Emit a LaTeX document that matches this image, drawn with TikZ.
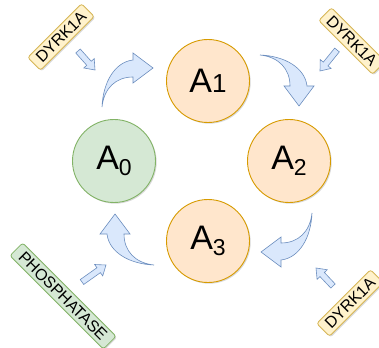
\documentclass[tikz,border=0pt]{standalone}
\usepackage{fontspec}
\setmainfont{Liberation Sans}
\usetikzlibrary{calc,shadows}

\definecolor{orfill}{HTML}{FFE6CC}
\definecolor{ordraw}{HTML}{D79B00}
\definecolor{grfill}{HTML}{D5E8D4}
\definecolor{grdraw}{HTML}{82B366}
\definecolor{yefill}{HTML}{FFF2CC}
\definecolor{yedraw}{HTML}{D6B656}
\definecolor{blfill}{HTML}{DAE8FC}
\definecolor{bldraw}{HTML}{6C8EBF}

% lowered index digit after a state letter
\newcommand\stateidx[1]{\raisebox{-6.5pt}{\fontsize{23}{27}\selectfont #1}}

% short straight block arrow from #1 (tail) to #2 (tip)
\newcommand\stubarrow[2]{%
  \path ($(#2)!9pt!(#1)$) coordinate (hb);
  \path[flow] ($(#1)!3pt!90:(#2)$) -- ($(hb)!3pt!90:(#2)$) -- ($(hb)!7pt!90:(#2)$)
    -- (#2) -- ($(hb)!7pt!-90:(#2)$) -- ($(hb)!3pt!-90:(#2)$) -- ($(#1)!3pt!-90:(#2)$) -- cycle;
}

% curved transition arrow (drawn for the A0 -> A1 step; others are rotated copies)
\newcommand\cyclearrow{%
  \path[flow] (102,107) .. controls (103,82) and (115,62) .. (133,60)
    -- (133,53) -- (153,68) -- (133,83) -- (133,77)
    .. controls (116,77) and (104,88) .. (102,107) -- cycle;
}

\begin{document}
\begin{tikzpicture}[x=1pt,y=-1pt,
  softshadow/.style={drop shadow={shadow xshift=1.2pt,shadow yshift=-1.2pt,opacity=0.15,fill=black}},
  state/.style={circle, minimum size=83pt, inner sep=0pt, line width=0.9pt,
    softshadow, font=\fontsize{34}{38}\selectfont},
  freestate/.style={state, fill=orfill, draw=ordraw},
  basestate/.style={state, fill=grfill, draw=grdraw},
  enzyme/.style={rounded corners=2.5pt, minimum height=18pt, inner sep=0pt,
    line width=0.8pt, softshadow, font=\fontsize{16}{18}\selectfont},
  kinase/.style={enzyme, fill=yefill, draw=yedraw, minimum width=76pt},
  phosphatase/.style={enzyme, fill=grfill, draw=grdraw, minimum width=132pt},
  flow/.style={fill=blfill, draw=bldraw, line width=0.6pt, line join=miter}
]
\fill[white] (0,0) rectangle (379,347);
\useasboundingbox (0,0) rectangle (379,347);

% states of the cycle
\node[basestate] (a0) at (114,161) {A\stateidx{0}};
\node[freestate] (a1) at (208,81) {A{\fontsize{26}{30}\selectfont 1}};
\node[freestate] (a2) at (289,161) {A\stateidx{2}};
\node[freestate] (a3) at (208,241) {A\stateidx{3}};

% curved transitions around the cycle
\cyclearrow
\begin{scope}[rotate around={-90:(207,160)}]\cyclearrow\end{scope}
\begin{scope}[rotate around={-180:(207,160)}]\cyclearrow\end{scope}
\begin{scope}[rotate around={90:(207,160)}]\cyclearrow\end{scope}

% enzymes
\node[kinase, rotate=45] (k1) at (61,37) {DYRK1A};
\node[kinase, rotate=-45] (k2) at (352,41) {DYRK1A};
\node[kinase, rotate=45] (k3) at (350,303) {DYRK1A};
\node[phosphatase, rotate=-45] (ph) at (63,296) {PHOSPHATASE};

% enzyme action arrows
\coordinate (k1s) at (78,51);  \coordinate (k1e) at (95,70);
\coordinate (k2s) at (337,50); \coordinate (k2e) at (320,71);
\coordinate (k3s) at (333,286);\coordinate (k3e) at (316,268);
\coordinate (phs) at (82,282); \coordinate (phe) at (106,265);
\stubarrow{k1s}{k1e}
\stubarrow{k2s}{k2e}
\stubarrow{k3s}{k3e}
\stubarrow{phs}{phe}
\end{tikzpicture}
\end{document}
